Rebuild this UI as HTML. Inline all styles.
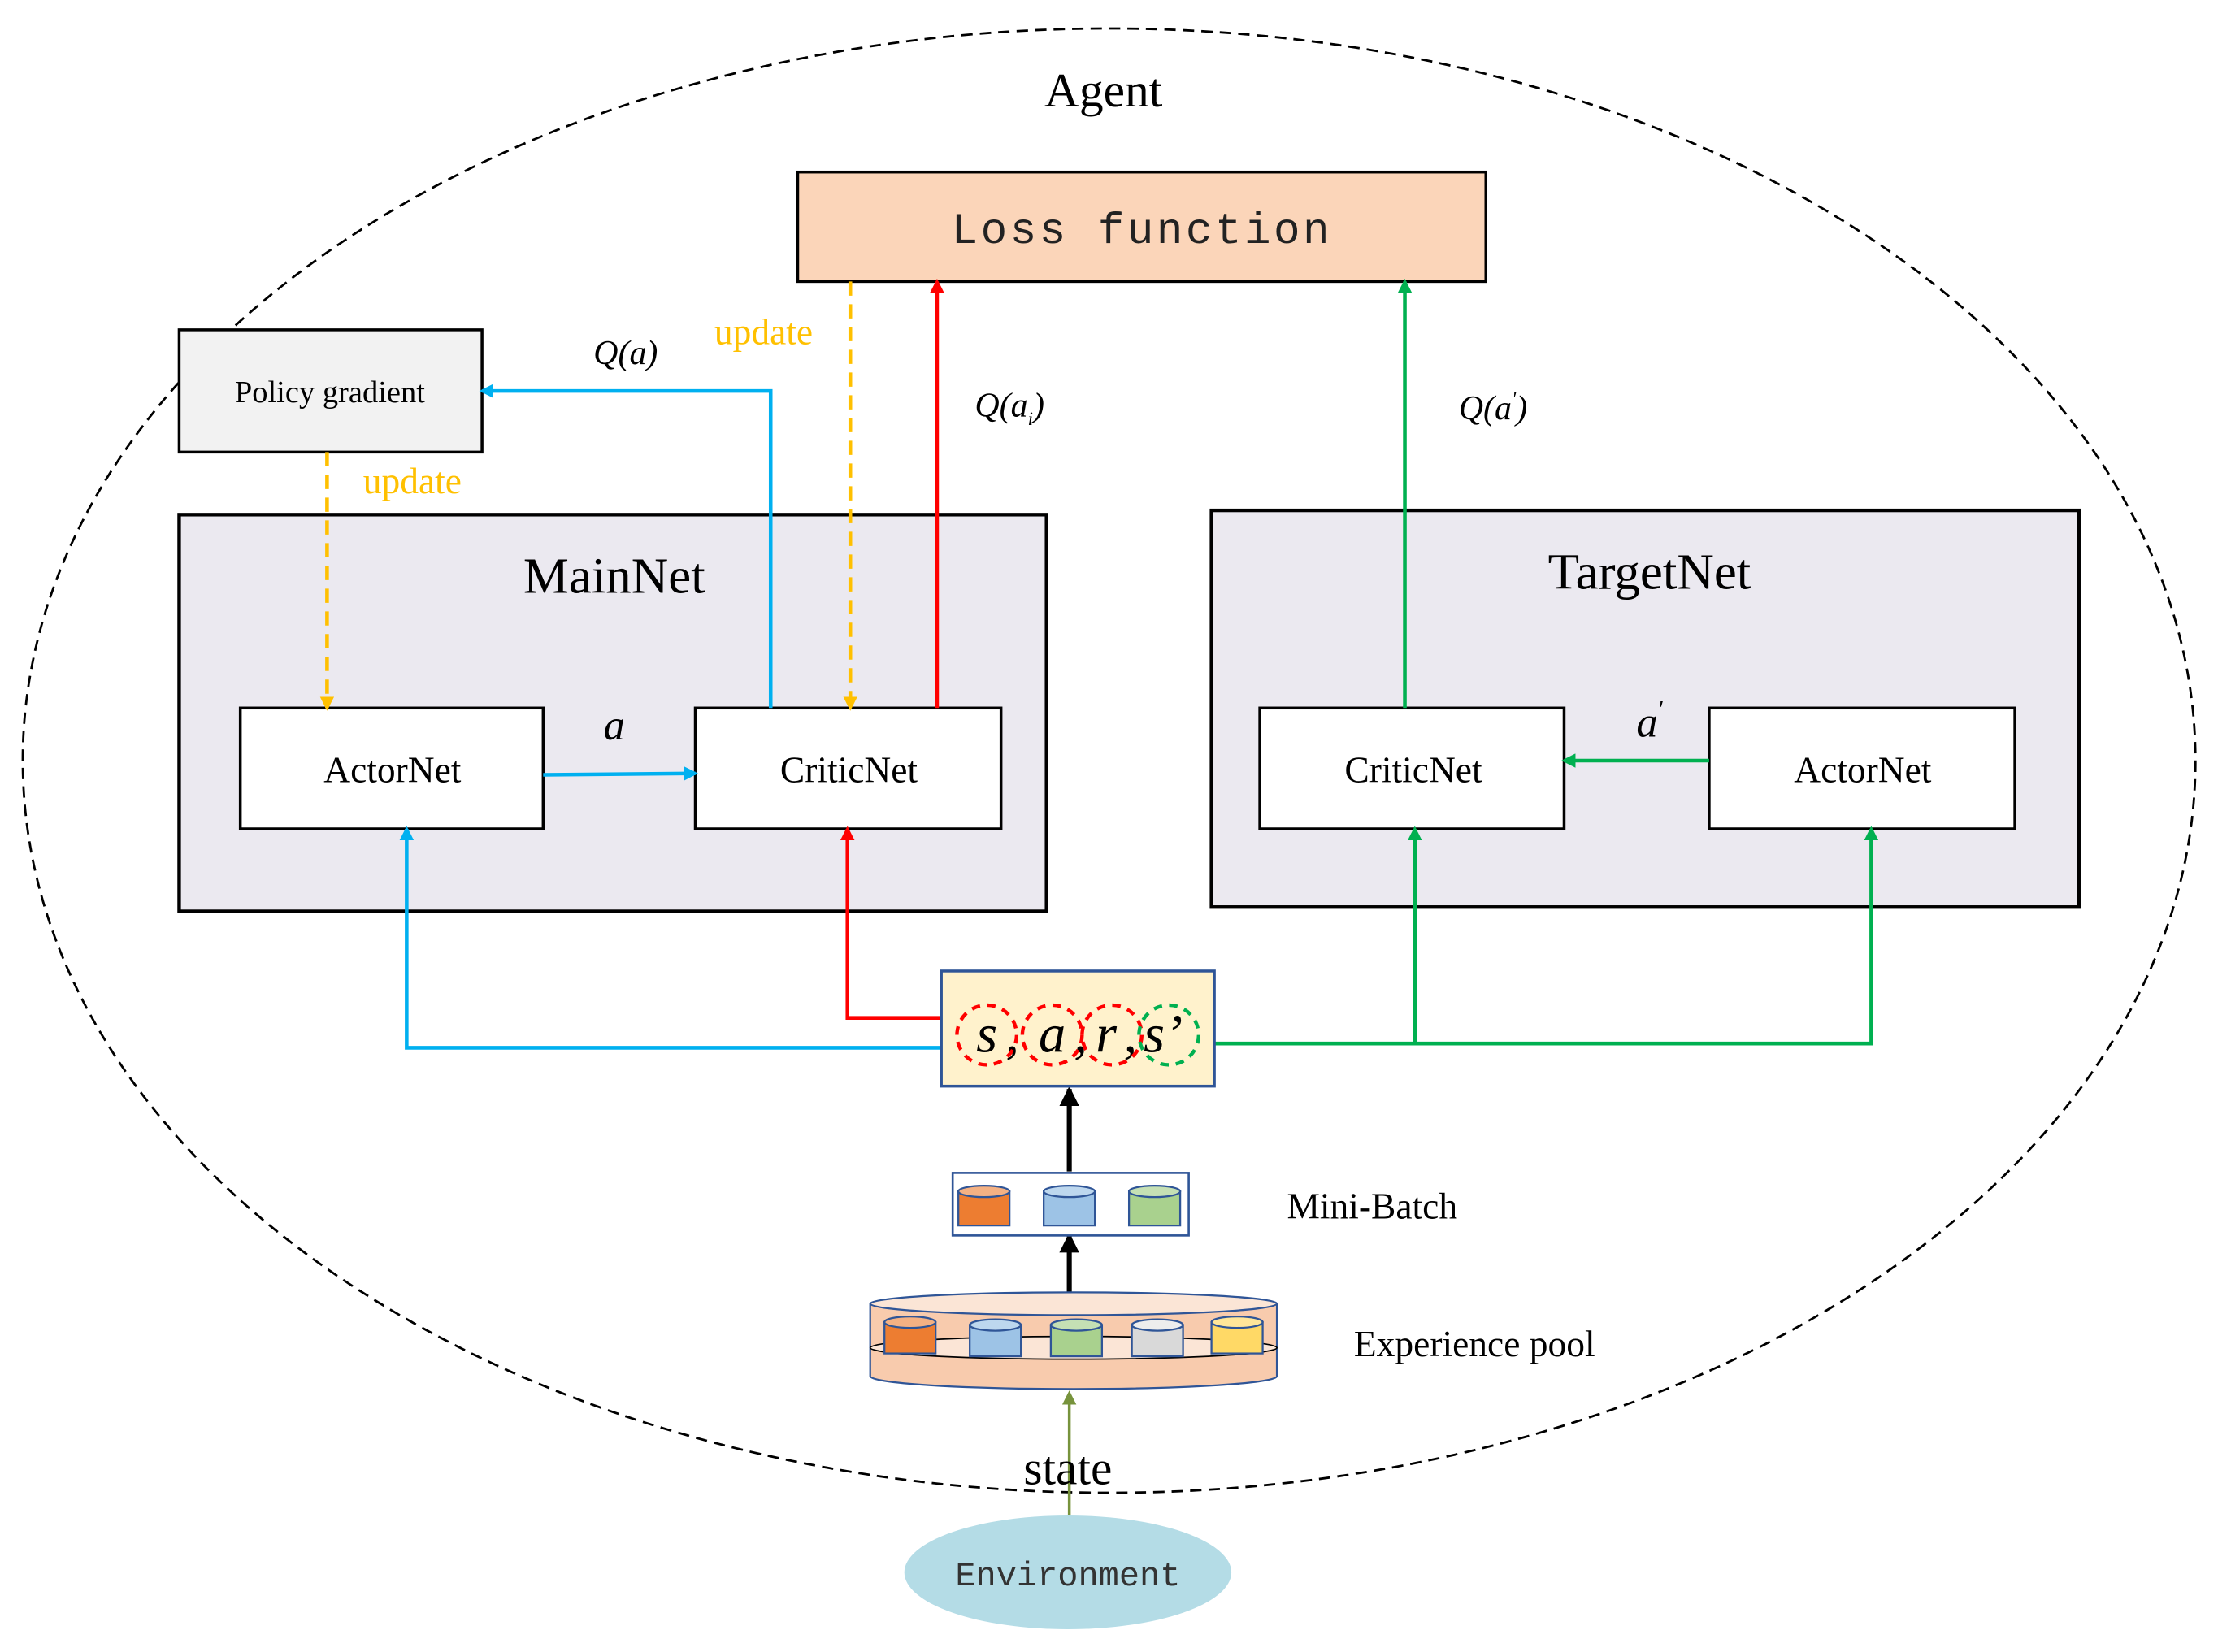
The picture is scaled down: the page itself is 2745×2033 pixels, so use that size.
<!DOCTYPE html>
<html><head><meta charset="utf-8"><style>html,body{margin:0;padding:0;background:#fff}svg{display:block}</style></head><body>
<svg width="2745" height="2033" viewBox="0 0 1569 1162" preserveAspectRatio="none" xmlns="http://www.w3.org/2000/svg" font-family="Liberation Serif, serif">
<defs>
<marker id="mb" markerWidth="10" markerHeight="10" refX="8" refY="5" orient="auto" markerUnits="userSpaceOnUse"><path d="M0,0 L10,5 L0,10z" fill="#00b0f0"/></marker>
<marker id="mr" markerWidth="10" markerHeight="10" refX="8" refY="5" orient="auto" markerUnits="userSpaceOnUse"><path d="M0,0 L10,5 L0,10z" fill="#ff0000"/></marker>
<marker id="mg" markerWidth="10" markerHeight="10" refX="8" refY="5" orient="auto" markerUnits="userSpaceOnUse"><path d="M0,0 L10,5 L0,10z" fill="#00b050"/></marker>
<marker id="my" markerWidth="10" markerHeight="10" refX="8" refY="5" orient="auto" markerUnits="userSpaceOnUse"><path d="M0,0 L10,5 L0,10z" fill="#ffc000"/></marker>
<marker id="mk" markerWidth="14" markerHeight="14" refX="12" refY="7" orient="auto" markerUnits="userSpaceOnUse"><path d="M0,0 L14,7 L0,14z" fill="#000"/></marker>
<marker id="mo" markerWidth="10" markerHeight="10" refX="8" refY="5" orient="auto" markerUnits="userSpaceOnUse"><path d="M0,0 L10,5 L0,10z" fill="#77933c"/></marker>
</defs>
<ellipse cx="780" cy="535" rx="764" ry="515" fill="none" stroke="#000" stroke-width="1.6" stroke-dasharray="8,5"/>
<text x="776" y="75" font-size="34" text-anchor="middle">Agent</text>
<rect x="561" y="121" width="484" height="77" fill="#fbd5b9" stroke="#000" stroke-width="2"/>
<text x="803" y="171" font-size="31" text-anchor="middle" font-family="Liberation Mono, monospace" letter-spacing="2" fill="#222">Loss function</text>
<rect x="126" y="232" width="213" height="86" fill="#f2f2f2" stroke="#000" stroke-width="2"/>
<text x="232" y="283" font-size="22" text-anchor="middle">Policy gradient</text>
<rect x="126" y="362" width="610" height="279" fill="#ebe9f0" stroke="#000" stroke-width="2.5"/>
<text x="432" y="417" font-size="36" text-anchor="middle">MainNet</text>
<rect x="852" y="359" width="610" height="279" fill="#ebe9f0" stroke="#000" stroke-width="2.5"/>
<text x="1160" y="414" font-size="36" text-anchor="middle">TargetNet</text>
<g fill="#fff" stroke="#000" stroke-width="2">
<rect x="169" y="498" width="213" height="85"/><rect x="489" y="498" width="215" height="85"/>
<rect x="886" y="498" width="214" height="85"/><rect x="1202" y="498" width="215" height="85"/>
</g>
<g font-size="26" text-anchor="middle">
<text x="276" y="550">ActorNet</text><text x="597" y="550">CriticNet</text>
<text x="994" y="550">CriticNet</text><text x="1310" y="550">ActorNet</text>
</g>
<g fill="none" stroke-width="2.6">
<path d="M382,545 L489,544" stroke="#00b0f0" marker-end="url(#mb)"/>
<path d="M542,498 V275 H339" stroke="#00b0f0" marker-end="url(#mb)"/>
<path d="M598,198 V498" stroke="#ffc000" stroke-dasharray="10,6" marker-end="url(#my)"/>
<path d="M230,318 V498" stroke="#ffc000" stroke-dasharray="10,6" marker-end="url(#my)"/>
<path d="M659,498 V198" stroke="#ff0000" marker-end="url(#mr)"/>
<path d="M988,498 V198" stroke="#00b050" marker-end="url(#mg)"/>
<path d="M1202,535 H1100" stroke="#00b050" marker-end="url(#mg)"/>
<path d="M662,737 H286 V583" stroke="#00b0f0" marker-end="url(#mb)"/>
<path d="M685,716 H596 V583" stroke="#ff0000" marker-end="url(#mr)"/>
<path d="M843,734 H1316 V583" stroke="#00b050" marker-end="url(#mg)"/>
<path d="M995,734 V583" stroke="#00b050" marker-end="url(#mg)"/>
<path d="M752,824 V766" stroke="#000" stroke-width="3.5" marker-end="url(#mk)"/>
<path d="M752,915 V869" stroke="#000" stroke-width="3.5" marker-end="url(#mk)"/>
<path d="M752,1068 V980" stroke="#77933c" stroke-width="2" marker-end="url(#mo)"/>
</g>
<g font-style="italic" font-size="24">
<text x="432" y="520" font-size="30" text-anchor="middle">a</text>
<text x="1160" y="518" font-size="30" text-anchor="middle">a<tspan font-size="16" dy="-14">'</tspan></text>
<text x="440" y="256" text-anchor="middle">Q(a)</text>
<text x="710" y="293" text-anchor="middle">Q(a<tspan font-size="13" dy="6">i</tspan><tspan dy="-6">)</tspan></text>
<text x="1050" y="295" text-anchor="middle">Q(a<tspan font-size="14" dy="-10">'</tspan><tspan dy="10">)</tspan></text>
</g>
<text x="537" y="242" font-size="26" fill="#ffc000" text-anchor="middle">update</text>
<text x="290" y="347" font-size="26" fill="#ffc000" text-anchor="middle">update</text>
<rect x="662" y="683" width="192" height="81" fill="#fff2cc" stroke="#2f5597" stroke-width="2"/>
<g font-size="38" font-style="italic" text-anchor="middle">
<text x="694" y="740">s</text><text x="712" y="740">,</text>
<text x="740" y="740">a</text><text x="760" y="740">,</text>
<text x="778" y="740">r</text><text x="795" y="740">,</text>
<text x="818" y="740">s’</text>
</g>
<g fill="none" stroke-width="2.5" stroke-dasharray="6,5">
<circle cx="694" cy="728" r="21" stroke="#ff0000"/><circle cx="740" cy="728" r="21" stroke="#ff0000"/>
<circle cx="782" cy="728" r="21" stroke="#ff0000"/><circle cx="822" cy="728" r="21" stroke="#00b050"/>
</g>
<rect x="670" y="825" width="166" height="44" fill="#fff" stroke="#2f5597" stroke-width="1.5"/>
<g stroke="#2f5597" stroke-width="1.3">
<rect x="674" y="838" width="36" height="24" fill="#ed7d31"/><ellipse cx="692" cy="838" rx="18" ry="4" fill="#f4b183"/>
<rect x="734" y="838" width="36" height="24" fill="#9dc3e6"/><ellipse cx="752" cy="838" rx="18" ry="4" fill="#bdd7ee"/>
<rect x="794" y="838" width="36" height="24" fill="#a9d18e"/><ellipse cx="812" cy="838" rx="18" ry="4" fill="#c5e0b4"/>
</g>
<text x="965" y="857" font-size="26" text-anchor="middle">Mini-Batch</text>
<path d="M612,917 V968 A143,9 0 0 0 898,968 V917" fill="#f8cbad" stroke="#2f5597" stroke-width="1.3"/>
<ellipse cx="755" cy="917" rx="143" ry="8" fill="#fbe5d6" stroke="#2f5597" stroke-width="1.3"/>
<ellipse cx="755" cy="948" rx="143" ry="8" fill="#fbe5d6" stroke="#000" stroke-width="1"/>
<g stroke="#2f5597" stroke-width="1.3">
<rect x="622" y="930" width="36" height="22" fill="#ed7d31"/><ellipse cx="640" cy="930" rx="18" ry="4" fill="#f4b183"/>
<rect x="682" y="932" width="36" height="22" fill="#9dc3e6"/><ellipse cx="700" cy="932" rx="18" ry="4" fill="#bdd7ee"/>
<rect x="739" y="932" width="36" height="22" fill="#a9d18e"/><ellipse cx="757" cy="932" rx="18" ry="4" fill="#c5e0b4"/>
<rect x="796" y="932" width="36" height="22" fill="#d9d9d9"/><ellipse cx="814" cy="932" rx="18" ry="4" fill="#ededed"/>
<rect x="852" y="930" width="36" height="22" fill="#ffd966"/><ellipse cx="870" cy="930" rx="18" ry="4" fill="#ffe699"/>
</g>
<text x="1037" y="954" font-size="26" text-anchor="middle">Experience pool</text>
<text x="751" y="1044" font-size="34" text-anchor="middle">state</text>
<ellipse cx="751" cy="1106" rx="115" ry="40" fill="#b4dce6"/>
<text x="751" y="1115" font-size="24" text-anchor="middle" font-family="Liberation Mono, monospace" fill="#333">Environment</text>
</svg>
</body></html>
